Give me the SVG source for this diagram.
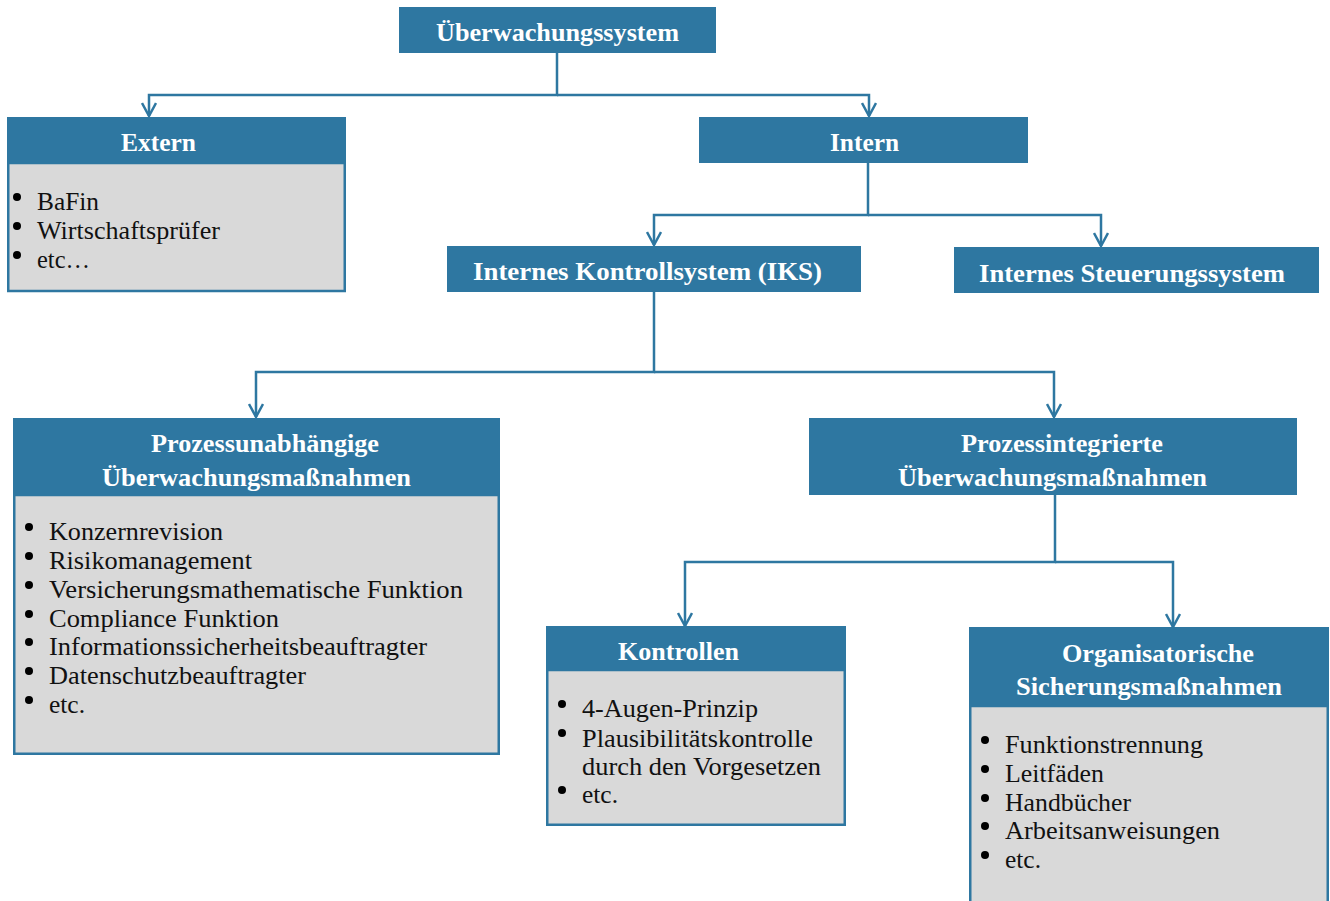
<svg xmlns="http://www.w3.org/2000/svg" width="1330" height="901" viewBox="0 0 1330 901">
<style>
.hd{fill:#2e77a1}
.bd{fill:#d9d9d9;stroke:#2e77a1;stroke-width:2.5}
.ht{font-family:"Liberation Serif","Times New Roman",serif;font-weight:bold;font-size:25px;fill:#ffffff;text-anchor:middle}
.bt{font-family:"Liberation Serif","Times New Roman",serif;font-size:25px;fill:#111111}
.bl{fill:#000000}
.cn{fill:none;stroke:#2e77a1;stroke-width:2.5}
</style>
<defs>
<marker id="arr" markerUnits="userSpaceOnUse" viewBox="0 0 16 16" refX="14" refY="8" markerWidth="16" markerHeight="16" orient="auto">
<path d="M1,1 L14,8 L1,15" fill="none" stroke="#2e77a1" stroke-width="2.5"/>
</marker>
</defs>
<rect width="1330" height="901" fill="#ffffff"/>
<g id="connectors">
<path class="cn" d="M557,53 V95 H149 V116" marker-end="url(#arr)"/>
<path class="cn" d="M557,95 H869 V116" marker-end="url(#arr)"/>
<path class="cn" d="M868,163 V215 H654 V245" marker-end="url(#arr)"/>
<path class="cn" d="M868,215 H1101 V246" marker-end="url(#arr)"/>
<path class="cn" d="M654,292 V372 H256 V417" marker-end="url(#arr)"/>
<path class="cn" d="M654,372 H1054 V417" marker-end="url(#arr)"/>
<path class="cn" d="M1055,495 V562 H685 V626" marker-end="url(#arr)"/>
<path class="cn" d="M1055,562 H1173 V627" marker-end="url(#arr)"/>
</g>
<g id="ueberwachungssystem">
<rect class="hd" x="399" y="7" width="317" height="46"/>
<text class="ht" x="557.5" y="41" textLength="243" lengthAdjust="spacingAndGlyphs">Überwachungssystem</text>
</g>
<g id="extern">
<rect class="bd" x="8.25" y="163" width="336.5" height="128"/>
<rect class="hd" x="7" y="117" width="339" height="46"/>
<text class="ht" x="158.5" y="151" textLength="75" lengthAdjust="spacingAndGlyphs">Extern</text>
<circle class="bl" cx="17" cy="197" r="4"/>
<circle class="bl" cx="17" cy="226" r="4"/>
<circle class="bl" cx="17" cy="255" r="4"/>
<text class="bt" x="37" y="210" textLength="62" lengthAdjust="spacingAndGlyphs">BaFin</text>
<text class="bt" x="37" y="239" textLength="183" lengthAdjust="spacingAndGlyphs">Wirtschaftsprüfer</text>
<text class="bt" x="37" y="268" textLength="53" lengthAdjust="spacingAndGlyphs">etc…</text>
</g>
<g id="intern">
<rect class="hd" x="699" y="117" width="329" height="46"/>
<text class="ht" x="864.5" y="151" textLength="69" lengthAdjust="spacingAndGlyphs">Intern</text>
</g>
<g id="iks">
<rect class="hd" x="447" y="246" width="414" height="46"/>
<text class="ht" x="647.5" y="280" textLength="349" lengthAdjust="spacingAndGlyphs">Internes Kontrollsystem (IKS)</text>
</g>
<g id="steuerungssystem">
<rect class="hd" x="954" y="247" width="365" height="46"/>
<text class="ht" x="1132" y="282" textLength="306" lengthAdjust="spacingAndGlyphs">Internes Steuerungssystem</text>
</g>
<g id="prozessunabhaengige">
<rect class="bd" x="14.25" y="495" width="484.5" height="258.75"/>
<rect class="hd" x="13" y="418" width="487" height="77"/>
<text class="ht" x="265" y="452" textLength="228" lengthAdjust="spacingAndGlyphs">Prozessunabhängige</text>
<text class="ht" x="256.5" y="486" textLength="309" lengthAdjust="spacingAndGlyphs">Überwachungsmaßnahmen</text>
<circle class="bl" cx="29" cy="527" r="4"/>
<circle class="bl" cx="29" cy="556" r="4"/>
<circle class="bl" cx="29" cy="585" r="4"/>
<circle class="bl" cx="29" cy="614" r="4"/>
<circle class="bl" cx="29" cy="642" r="4"/>
<circle class="bl" cx="29" cy="671" r="4"/>
<circle class="bl" cx="29" cy="700" r="4"/>
<text class="bt" x="49" y="540" textLength="174" lengthAdjust="spacingAndGlyphs">Konzernrevision</text>
<text class="bt" x="49" y="569" textLength="203" lengthAdjust="spacingAndGlyphs">Risikomanagement</text>
<text class="bt" x="49" y="598" textLength="414" lengthAdjust="spacingAndGlyphs">Versicherungsmathematische Funktion</text>
<text class="bt" x="49" y="627" textLength="230" lengthAdjust="spacingAndGlyphs">Compliance Funktion</text>
<text class="bt" x="49" y="655" textLength="378" lengthAdjust="spacingAndGlyphs">Informationssicherheitsbeauftragter</text>
<text class="bt" x="49" y="684" textLength="257" lengthAdjust="spacingAndGlyphs">Datenschutzbeauftragter</text>
<text class="bt" x="49" y="713" textLength="36" lengthAdjust="spacingAndGlyphs">etc.</text>
</g>
<g id="prozessintegrierte">
<rect class="hd" x="809" y="418" width="488" height="77"/>
<text class="ht" x="1062" y="452" textLength="202" lengthAdjust="spacingAndGlyphs">Prozessintegrierte</text>
<text class="ht" x="1052.5" y="486" textLength="309" lengthAdjust="spacingAndGlyphs">Überwachungsmaßnahmen</text>
</g>
<g id="kontrollen">
<rect class="bd" x="547.25" y="670" width="297.5" height="154.75"/>
<rect class="hd" x="546" y="626" width="300" height="44"/>
<text class="ht" x="678.5" y="660" textLength="121" lengthAdjust="spacingAndGlyphs">Kontrollen</text>
<circle class="bl" cx="562" cy="704" r="4"/>
<circle class="bl" cx="562" cy="733" r="4"/>
<circle class="bl" cx="562" cy="790" r="4"/>
<text class="bt" x="582" y="717" textLength="176" lengthAdjust="spacingAndGlyphs">4-Augen-Prinzip</text>
<text class="bt" x="582" y="747" textLength="231" lengthAdjust="spacingAndGlyphs">Plausibilitätskontrolle</text>
<text class="bt" x="582" y="775" textLength="239" lengthAdjust="spacingAndGlyphs">durch den Vorgesetzen</text>
<text class="bt" x="582" y="803" textLength="36" lengthAdjust="spacingAndGlyphs">etc.</text>
</g>
<g id="organisatorische">
<rect class="bd" x="970.25" y="706" width="357.5" height="200"/>
<rect class="hd" x="969" y="627" width="360" height="79"/>
<text class="ht" x="1158" y="662" textLength="192" lengthAdjust="spacingAndGlyphs">Organisatorische</text>
<text class="ht" x="1149" y="695" textLength="266" lengthAdjust="spacingAndGlyphs">Sicherungsmaßnahmen</text>
<circle class="bl" cx="985" cy="740" r="4"/>
<circle class="bl" cx="985" cy="769" r="4"/>
<circle class="bl" cx="985" cy="798" r="4"/>
<circle class="bl" cx="985" cy="826" r="4"/>
<circle class="bl" cx="985" cy="855" r="4"/>
<text class="bt" x="1005" y="753" textLength="198" lengthAdjust="spacingAndGlyphs">Funktionstrennung</text>
<text class="bt" x="1005" y="782" textLength="99" lengthAdjust="spacingAndGlyphs">Leitfäden</text>
<text class="bt" x="1005" y="811" textLength="126" lengthAdjust="spacingAndGlyphs">Handbücher</text>
<text class="bt" x="1005" y="839" textLength="215" lengthAdjust="spacingAndGlyphs">Arbeitsanweisungen</text>
<text class="bt" x="1005" y="868" textLength="36" lengthAdjust="spacingAndGlyphs">etc.</text>
</g>
</svg>
